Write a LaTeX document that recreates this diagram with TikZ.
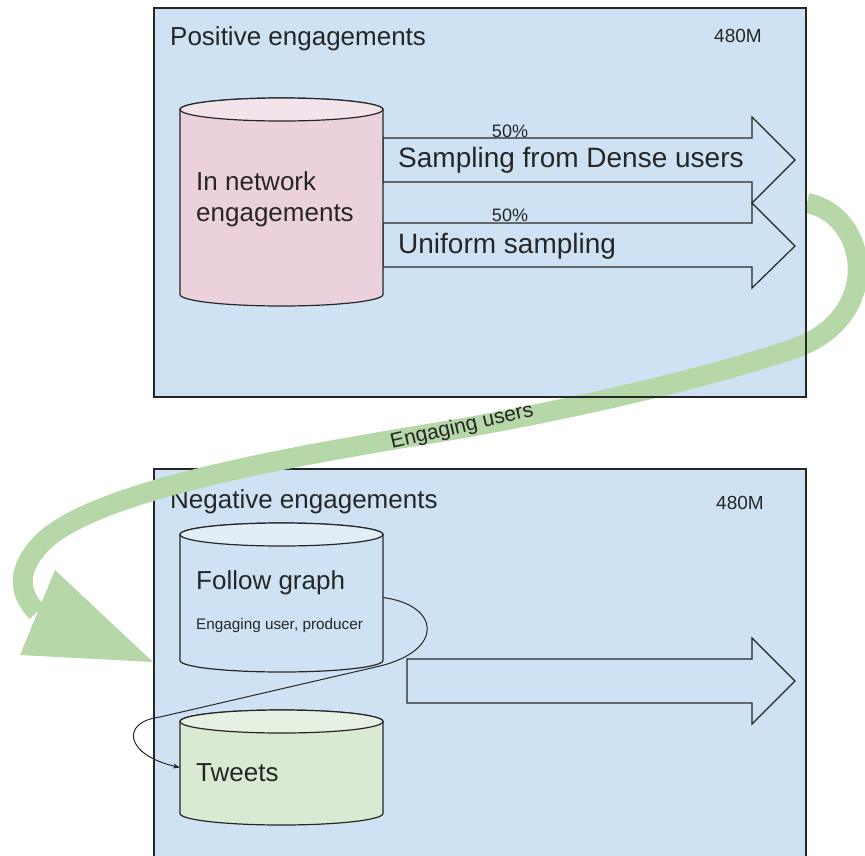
\documentclass[tikz,border=0pt]{standalone}
\usepackage{fontspec}
\setmainfont{Liberation Sans}
\usetikzlibrary{arrows.meta,positioning}
\definecolor{boxblue}{HTML}{CFE2F3}
\definecolor{boxline}{HTML}{262626}
\definecolor{pinkbody}{HTML}{EAD1DC}
\definecolor{pinktop}{HTML}{F3E4EB}
\definecolor{bluetop}{HTML}{E2EDF8}
\definecolor{greenbody}{HTML}{D9EAD3}
\definecolor{greentop}{HTML}{E7F1E3}
\definecolor{bandgreen}{HTML}{B6D7A8}
\tikzset{
  panel/.style={fill=boxblue},
  panelline/.style={draw=boxline, line width=1.2pt},
  dbbox/.style={minimum width=203pt, inner sep=0pt, outer sep=0pt},
  dbline/.style={draw=boxline, line width=1.2pt},
  fat/.style={draw=boxline, fill=boxblue, line width=1.2pt},
  txt/.style={inner sep=0pt, text=boxline},
}
% cylinder drawn round a named box: name, body colour, lid colour
\newcommand{\drum}[3]{%
  \path[dbline, fill=#2] ([yshift=-11.5pt]#1.north west) -- ([yshift=11.5pt]#1.south west)
    arc[start angle=180, end angle=360, x radius=101.5pt, y radius=11.5pt]
    -- ([yshift=-11.5pt]#1.north east)
    arc[start angle=0, end angle=180, x radius=101.5pt, y radius=11.5pt] -- cycle;
  \path[dbline, fill=#3] ([yshift=-11.5pt]#1.north) ellipse[x radius=101.5pt, y radius=11.5pt];
}

\begin{document}
\begin{tikzpicture}[x=1pt, y=-1pt]
\useasboundingbox (0,0) rectangle (865,855);
\clip (0,0) rectangle (865,855);
% Panels
    \fill[panel] (154,8) rectangle (806,397);
    \draw[panel, panelline] (154,469) rectangle (806,880);
% Negative side
    \node[dbbox, minimum height=149pt] (follow) at (281.5,597.5) {};
    \node[dbbox, minimum height=115pt] (tweets) at (281.5,767.5) {};
    \drum{follow}{boxblue}{bluetop}
    \drum{tweets}{greenbody}{greentop}
    \node[txt, anchor=west, font=\fontsize{26}{31}\selectfont] (followtxt) at (196,583) {Follow graph};
    \node[txt, anchor=west, font=\fontsize{15.3}{18}\selectfont] (followsub) at (196,626) {Engaging user, producer};
    \node[txt, anchor=west, font=\fontsize{26}{31}\selectfont] (tweetstxt) at (196,773) {Tweets};
    \node[txt, anchor=west, font=\fontsize{26}{31}\selectfont] (negtitle) at (170,502) {Negative engagements};
    \node[txt, font=\fontsize{19}{22}\selectfont] (negsize) at (740,503) {480M};
    \draw[fat] (407,659) -- (752,659) -- (752,638) -- (795,681) -- (752,724) -- (752,703) -- (407,703) -- cycle;
    \draw[boxline, line width=1pt, -{Stealth[length=7pt, width=5pt]}] (follow.east)
        .. controls (440,605) and (445,650) .. (380,666)
        -- (160,717)
        .. controls (120,722) and (125,755) .. (tweets.west);
% Engaging users band
    \coordinate (bandstart) at (807,203);
    \coordinate (bandend) at (37,612);
    \draw[bandgreen, line width=20pt] (bandstart)
        .. controls (870,215) and (885,320) .. (790,350)
        .. controls (700,380) and (560,412) .. (440,432)
        .. controls (300,455) and (90,490) .. (40,545)
        .. controls (15,572) and (20,595) .. (bandend);
    \fill[bandgreen] (55,570) -- (153,662) -- (20,655) -- cycle;
    \node[txt, rotate=13, font=\fontsize{21}{24}\selectfont] (bandtxt) at (462,427) {Engaging users};
% Positive side
    \draw[panelline] (154,8) rectangle (806,397);
    \draw[fat] (383,138) -- (752,138) -- (752,117) -- (795,160) -- (752,203) -- (752,182) -- (383,182) -- cycle;
    \draw[fat] (383,223) -- (752,223) -- (752,203) -- (795,246) -- (752,288) -- (752,267) -- (383,267) -- cycle;
    \node[dbbox, minimum height=208pt] (innet) at (281.5,202) {};
    \drum{innet}{pinkbody}{pinktop}
    \node[txt, anchor=west, align=left, font=\fontsize{26}{31}\selectfont] (innettxt) at (196,199.5) {In network\\engagements};
    \node[txt, anchor=west, font=\fontsize{26}{31}\selectfont] (postitle) at (170,39) {Positive engagements};
    \node[txt, font=\fontsize{19}{22}\selectfont] (possize) at (738,36) {480M};
    \node[txt, font=\fontsize{18}{21}\selectfont] (densepct) at (510,131) {50\%};
    \node[txt, font=\fontsize{18}{21}\selectfont] (unifpct) at (510,215) {50\%};
    \node[txt, anchor=west, font=\fontsize{28}{33}\selectfont] (densetxt) at (398,160) {Sampling from Dense users};
    \node[txt, anchor=west, font=\fontsize{28}{33}\selectfont] (uniftxt) at (398,246) {Uniform sampling};
\end{tikzpicture}
\end{document}
